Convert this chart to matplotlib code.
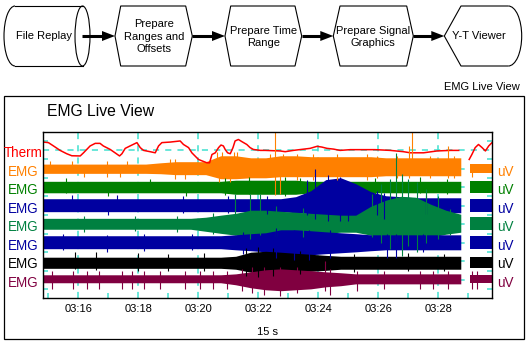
import numpy as np
import matplotlib
matplotlib.use('Agg')
import matplotlib.pyplot as plt
import matplotlib.transforms as mtransforms
from matplotlib.patches import Polygon, Ellipse, Arc, Rectangle
from matplotlib.ticker import MultipleLocator, FuncFormatter

plt.rcParams['font.family'] = ['Liberation Sans', 'DejaVu Sans']

# ---- data (time in seconds, amplitudes in display rows) ----
sweep_edge = 208.9          # sweep display: newest data left of it, oldest right of it
t_main = 194.75 + 0.5 * np.arange(29)
t_tail = np.array([209.05, 209.3, 209.55, 209.8])

therm_t = [194.84, 195.01, 195.18, 195.40, 195.62, 195.79, 196.07, 196.18, 196.40, 196.57,
           196.73, 196.84, 197.07, 197.23, 197.38, 197.46, 197.57, 197.73, 197.96, 198.07,
           198.18, 198.40, 198.57, 198.68, 198.79, 199.07, 199.40, 199.51, 199.68, 199.79,
           200.01, 200.29, 200.38, 200.46, 200.57, 200.68, 200.76, 200.84, 200.90, 200.98,
           201.07, 201.16, 201.23, 201.34, 201.46, 201.62, 201.73, 201.84, 202.07, 202.23,
           202.73, 202.90, 203.17, 203.73, 203.96, 204.12, 204.29, 204.51, 204.73, 205.07,
           205.40, 205.90, 206.40, 206.84, 207.07, 207.51, 207.96, 208.40, 208.68,
           209.03, 209.12, 209.23, 209.34, 209.46, 209.57, 209.68, 209.79]
therm_y = [8.44, 8.41, 8.23, 7.99, 7.81, 7.70, 7.69, 7.86, 8.23, 8.37,
           8.37, 8.23, 8.04, 7.86, 7.69, 7.81, 8.10, 8.23, 8.41, 8.14,
           7.99, 7.92, 7.86, 8.23, 8.41, 8.44, 8.50, 8.31, 8.14, 7.86,
           7.50, 7.32, 7.32, 7.77, 7.86, 8.14, 8.28, 8.23, 8.04, 7.86,
           7.81, 8.14, 8.50, 8.58, 8.46, 8.31, 8.14, 8.04, 7.99, 7.99,
           7.96, 7.92, 7.99, 8.10, 8.21, 8.17, 8.10, 8.06, 7.99, 8.03,
           8.03, 8.03, 7.99, 7.92, 7.86, 7.86, 7.96, 7.99, 7.99,
           7.50, 7.77, 8.14, 8.31, 8.14, 7.96, 8.23, 8.41]

# band extent above / below each trace centre (29 sweep samples + 4 tail samples)
orange_hi = [0.25]*8 + [0.32, 0.38, 0.38, 0.38, 0.70, 0.70, 0.59, 0.59, 0.70, 0.70] + [0.65]*5 + [0.59]*6 + [0.25]*4
orange_lo = [0.25]*8 + [0.27, 0.32, 0.32, 0.32, 0.54, 0.54, 0.49, 0.49, 0.43, 0.43] + [0.43]*5 + [0.38]*6 + [0.25]*4
green1_hi = [0.32]*13 + [0.38]*5 + [0.32]*11 + [0.32]*4
green1_lo = [0.30]*13 + [0.38]*5 + [0.30]*11 + [0.30]*4
blue1_hi = [0.38]*17 + [0.49, 0.81, 1.41, 1.51, 1.19, 0.76, 0.54, 0.49] + [0.43]*4 + [0.38]*4
blue1_lo = [0.32]*17 + [0.38, 0.43, 0.59, 0.70, 0.70, 0.49, 0.43, 0.43] + [0.38]*4 + [0.32]*4
green2_hi = [0.32]*11 + [0.38, 0.49, 0.59, 0.76, 0.76, 0.70, 0.65, 0.59, 0.54, 0.49, 0.49,
                         0.97, 1.30, 1.51, 1.46, 1.08, 0.76, 0.54] + [0.38]*4
green2_lo = [0.27]*11 + [0.38, 0.49, 0.59, 0.70, 0.65, 0.59, 0.54, 0.54, 0.49, 0.43, 0.43,
                         0.59, 0.76, 0.86, 0.86, 0.70, 0.54, 0.43] + [0.32]*4
blue2_hi = [0.38]*13 + [0.43, 0.49, 0.54, 0.70, 0.70, 0.65, 0.59, 0.54, 0.49, 0.43] + [0.43]*6 + [0.38]*4
blue2_lo = [0.32]*13 + [0.38, 0.43, 0.49, 0.65, 0.65, 0.65, 0.59, 0.54, 0.49, 0.43] + [0.38]*6 + [0.32]*4
black_hi = [0.22]*13 + [0.27, 0.49, 0.54, 0.49, 0.43, 0.38, 0.32] + [0.27]*9 + [0.22]*4
black_lo = [0.38]*13 + [0.43, 0.59, 0.65, 0.59, 0.54, 0.54, 0.49] + [0.43]*9 + [0.38]*4
maroon_hi = [0.27]*13 + [0.32, 0.43, 0.54, 0.59, 0.54, 0.49, 0.43, 0.38] + [0.32]*8 + [0.27]*4
maroon_lo = [0.16]*13 + [0.27, 0.43, 0.54, 0.59, 0.54, 0.49, 0.38, 0.32] + [0.22]*8 + [0.16]*4

# single spikes: (time, up, down)
orange_spikes = [(195.07, 0.43, 0.1), (195.79, 0.43, 0.2), (196.18, 0.1, 0.46), (196.96, 0.43, 0.46),
                 (197.4, 0.1, 0.46), (197.62, 0.43, 0.1), (199.07, 0.54, 0.2), (199.23, 0.54, 0.54),
                 (199.57, 0.2, 0.54), (200.62, 0.89, 0.3), (200.68, 0.3, 0.73), (200.79, 0.89, 0.3),
                 (201.07, 0.3, 0.73), (201.18, 0.89, 0.3), (201.31, 0.89, 0.3), (202.4, 0.81, 0.3),
                 (202.57, 2.08, 1.43), (202.73, 0.3, 1.35), (202.84, 0.81, 0.3), (203.29, 0.81, 0.6),
                 (203.84, 0.81, 0.6), (204.62, 0.81, 0.6), (205.62, 0.81, 0.6), (205.96, 0.7, 0.5),
                 (206.62, 0.7, 0.5), (207.01, 1.24, 0.5), (207.12, 2.08, 0.3), (207.73, 0.7, 0.5),
                 (208.34, 1.24, 0.5), (208.51, 0.7, 0.5), (209.12, 0.2, 0.46)]
green1_spikes = [(195.6, 0.49, 0.3), (197.0, 0.3, 0.49), (198.4, 0.43, 0.2), (199.6, 0.2, 0.49),
                 (200.9, 0.49, 0.43), (201.7, 0.54, 0.38), (202.9, 0.54, 0.49), (203.4, 0.49, 0.3),
                 (205.9, 0.49, 0.38), (207.4, 0.54, 0.3), (208.3, 0.43, 0.38)]
blue1_spikes = [(195.8, 0.59, 0.3), (197.0, 0.3, 0.5), (197.3, 0.59, 0.3), (199.5, 0.5, 0.4),
                (201.0, 0.55, 0.4), (202.3, 0.5, 0.45), (203.62, 1.4, 0.5), (203.9, 2.0, 0.7),
                (204.34, 1.68, 0.8), (204.73, 1.57, 0.8), (205.0, 1.3, 0.8), (205.96, 0.81, 0.5),
                (206.2, 0.7, 0.7), (207.6, 0.6, 0.45)]
green2_spikes = [(196.2, 0.43, 0.43), (197.9, 0.43, 0.38), (199.3, 0.43, 0.43), (200.5, 0.6, 0.5),
                 (201.23, 1.62, 0.6), (201.73, 1.62, 0.81), (202.07, 1.62, 0.6), (202.6, 1.0, 0.7),
                 (203.5, 0.9, 0.7), (205.8, 1.62, 0.7), (206.1, 2.16, 1.0), (206.4, 2.43, 1.35),
                 (206.6, 3.86, 1.0), (206.8, 2.7, 1.73), (207.0, 2.43, 1.2), (207.3, 2.27, 1.5),
                 (207.6, 1.89, 1.0), (208.0, 1.51, 0.8), (208.4, 0.8, 0.6)]
blue2_spikes = [(195.5, 0.5, 0.4), (196.96, 0.43, 0.49), (198.2, 0.45, 0.45), (199.8, 0.5, 0.4),
                (201.5, 0.6, 0.6), (202.6, 0.8, 0.8), (203.2, 0.7, 0.92), (203.7, 0.7, 0.92),
                (204.4, 0.7, 0.8), (206.3, 0.5, 0.81), (206.6, 0.5, 0.81), (207.5, 0.5, 0.5)]
black_spikes = [(195.9, 0.51, 0.4), (196.6, 0.5, 0.45), (198.0, 0.45, 0.5), (199.0, 0.4, 0.5),
                (200.2, 0.45, 0.55), (201.6, 0.7, 0.8), (202.0, 0.75, 0.85), (202.5, 0.7, 0.8),
                (203.4, 0.55, 0.7), (205.2, 0.4, 0.6), (207.0, 0.45, 0.55), (208.2, 0.4, 0.5)]
maroon_spikes = [(195.12, 0.49, 0.5), (195.84, 0.49, 0.5), (196.29, 0.49, 0.5), (196.68, 0.49, 0.5),
                 (197.46, 0.49, 0.5), (197.79, 0.49, 0.5), (198.18, 0.49, 0.5), (198.73, 0.49, 0.5),
                 (199.57, 0.49, 0.5), (200.07, 0.49, 0.5), (200.51, 0.49, 0.5), (200.96, 0.49, 0.5),
                 (201.46, 0.6, 0.6), (201.79, 0.7, 0.7), (202.18, 0.7, 0.8), (202.73, 0.7, 0.86),
                 (203.3, 0.7, 0.7), (204.23, 1.03, 0.6), (204.4, 0.6, 0.81), (205.29, 0.5, 0.6),
                 (206.18, 0.49, 0.5), (207.4, 0.49, 0.5), (207.84, 0.49, 0.5), (208.34, 0.49, 0.5),
                 (209.12, 0.49, 0.5), (209.29, 0.49, 0.5)]

row_names = ['Therm', 'EMG', 'EMG', 'EMG', 'EMG', 'EMG', 'EMG', 'EMG']
row_colors = ['#FF0000', '#FF8000', '#008000', '#0000A0', '#008040', '#0000A0', '#000000', '#800040']

traces = [(orange_hi, orange_lo, orange_spikes),
          (green1_hi, green1_lo, green1_spikes),
          (blue1_hi, blue1_lo, blue1_spikes),
          (green2_hi, green2_lo, green2_spikes),
          (blue2_hi, blue2_lo, blue2_spikes),
          (black_hi, black_lo, black_spikes),
          (maroon_hi, maroon_lo, maroon_spikes)]

GRID = '#40E0D0'

fig = plt.figure(figsize=(5.32, 3.49), dpi=100)

# background layer in pixel coordinates: flow diagram + panel frame
bg = fig.add_axes([0, 0, 1, 1])
bg.set_xlim(0, 532)
bg.set_ylim(349, 0)
bg.axis('off')

lw_box = 0.8
# File Replay cylinder
bg.add_patch(Arc((15, 36), 22, 60, theta1=90, theta2=270, lw=lw_box))
bg.plot([15, 82.5], [6, 6], color='k', lw=lw_box)
bg.plot([15, 82.5], [66, 66], color='k', lw=lw_box)
bg.add_patch(Ellipse((82.5, 36), 15, 60, fill=False, lw=lw_box))
# process boxes
for lp, tl, tr, rp in [(115, 120.7, 185.7, 192.3), (225, 230.7, 295, 301.7), (333.3, 340, 406.7, 413.3)]:
    bg.add_patch(Polygon([(lp, 36), (tl, 6), (tr, 6), (rp, 36), (tr, 66), (tl, 66)],
                         closed=True, fill=False, lw=lw_box))
# display shape
bg.add_patch(Polygon([(508.3, 6), (461, 6), (444.3, 36), (461, 66), (508.3, 66)],
                     closed=False, fill=False, lw=lw_box))
bg.add_patch(Arc((508.3, 36), 26.8, 60, theta1=-90, theta2=90, lw=lw_box))
# arrows
for x0, x1 in [(82, 115), (192.3, 225), (301.7, 333.3), (413.3, 444.3)]:
    bg.plot([x0, x1 - 12], [36, 36], color='k', lw=2.2, solid_capstyle='butt')
    bg.add_patch(Polygon([(x1 - 13, 31), (x1, 36), (x1 - 13, 41)], closed=True, color='k', lw=0))

fs = 8
bg.text(44, 36, 'File Replay', ha='center', va='center', fontsize=fs)
bg.text(154, 36.5, 'Prepare\nRanges and\nOffsets', ha='center', va='center', fontsize=fs, linespacing=1.3)
bg.text(263.3, 37, 'Prepare Time\nRange', ha='center', va='center', fontsize=fs, linespacing=1.3)
bg.text(373.3, 37, 'Prepare Signal\nGraphics', ha='center', va='center', fontsize=fs, linespacing=1.3)
bg.text(479, 36, 'Y-T Viewer', ha='center', va='center', fontsize=fs)
bg.text(520, 87.3, 'EMG Live View', ha='right', va='center', fontsize=fs)

bg.add_patch(Rectangle((4, 95.5), 519.5, 243.5, fill=False, lw=0.9))
bg.text(46.7, 115.7, 'EMG Live View', fontsize=11.3, va='baseline')
bg.text(267.6, 332, '15 s', ha='center', va='center', fontsize=fs)

# signal axes
ax = fig.add_axes([43 / 532, 1 - 298.3 / 349, (492.3 - 43) / 532, (298.3 - 131.7) / 349])
ax.set_xlim(194.83, 209.8)
ax.set_ylim(0, 9)
ax.set_xticks(np.arange(196, 209, 2))
ax.xaxis.set_minor_locator(MultipleLocator(1))
ax.xaxis.set_major_formatter(FuncFormatter(lambda v, p: f"{int(v) // 60:02d}:{int(v) % 60:02d}"))
ax.set_yticks(range(1, 9))
ax.set_yticks(np.arange(0.5, 9, 1), minor=True)
ax.set_yticklabels([])
ax.grid(which='major', color=GRID, ls=(0, (4, 4)), lw=1.1)
ax.set_axisbelow(True)
ax.tick_params(which='major', length=0, pad=4, labelsize=fs)
ax.tick_params(axis='x', which='minor', direction='in', length=3.6, color=GRID, width=1.1)
ax.tick_params(axis='y', which='minor', direction='in', length=3.6, color=GRID, width=1.1,
               left=True, right=True)
for s in ax.spines.values():
    s.set_linewidth(1.0)

# thermistor line, split at the sweep edge
tt = np.array(therm_t)
ty = np.array(therm_y)
for m in (tt < sweep_edge, tt > sweep_edge):
    ax.plot(tt[m], ty[m], color=row_colors[0], lw=1.1)

# EMG bands
for i, (hi, lo, spikes) in enumerate(traces):
    c = 7 - i
    col = row_colors[i + 1]
    hi = np.array(hi)
    lo = np.array(lo)
    for sl, ts in ((slice(0, 29), t_main), (slice(29, 33), t_tail)):
        ax.fill_between(ts, c - lo[sl], c + hi[sl], color=col, lw=0)
    st = [s[0] for s in spikes]
    ax.vlines(st, [c - s[2] for s in spikes], [c + s[1] for s in spikes], color=col, lw=0.8)

# row labels
trans = mtransforms.blended_transform_factory(bg.transData, ax.transData)
trans = mtransforms.offset_copy(trans, fig=fig, y=-3, units='dots')
for i, (name, col) in enumerate(zip(row_names, row_colors)):
    y = 8 - i
    bg.text(23, y, name, transform=trans, ha='center', va='center', fontsize=9.75, color=col)
    if i > 0:
        bg.text(497, y, 'uV', transform=trans, ha='left', va='center', fontsize=9.75, color=col)

fig.savefig('out.png', dpi=100)
